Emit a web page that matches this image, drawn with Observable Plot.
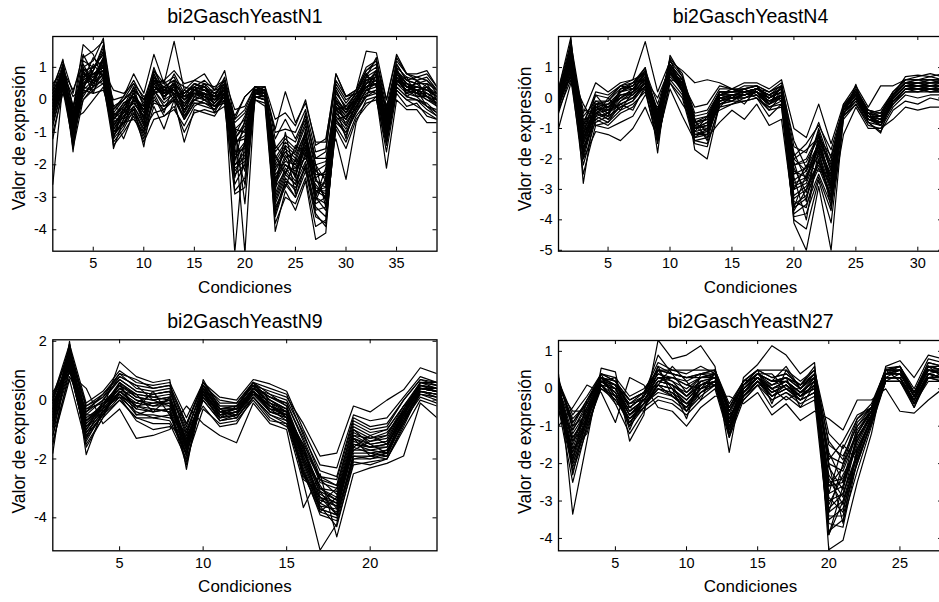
<!DOCTYPE html>
<html><head><meta charset="utf-8">
<script src="https://cdn.jsdelivr.net/npm/d3@7"></script>
<script src="https://cdn.jsdelivr.net/npm/@observablehq/plot@0.6"></script>
<style>
html,body{margin:0;padding:0;overflow:hidden;background:#fff;}
#root{position:relative;width:939px;height:602px;overflow:hidden;background:#fff;}
.panel{position:absolute;}
</style></head><body>
<div id="root"></div>
<script>
// ---- titles / labels ----
const titles = ["bi2GaschYeastN1", "bi2GaschYeastN4", "bi2GaschYeastN9", "bi2GaschYeastN27"];
const xLabel = "Condiciones";
const yLabel = "Valor de expresión";

// ---- tick values ----
const xTicks1 = [5, 10, 15, 20, 25, 30, 35];
const yTicks1 = [-4, -3, -2, -1, 0, 1];
const xTicks2 = [5, 10, 15, 20, 25, 30];
const yTicks2 = [-5, -4, -3, -2, -1, 0, 1];
const xTicks3 = [5, 10, 15, 20];
const yTicks3 = [-4, -2, 0, 2];
const xTicks4 = [5, 10, 15, 20, 25];
const yTicks4 = [-4, -3, -2, -1, 0, 1];

// ---- expression profiles (one row per gene, one value per condition) ----
// bi2GaschYeastN1 : 39 conditions
const p1 = [
[-2.6,0.5,-0.4,0.8,0.6,1.3,-0.9,-0.4,0.2,-0.6,0.4,0.1,0.5,-0.2,0.3,0.1,-0.1,0.4,-1.2,-0.8,0.2,0.3,-2.0,-1.5,-1.8,-1.0,-2.4,-2.2,0.1,-0.4,0.1,0.6,0.8,-0.6,0.9,0.5,0.4,0.3,0.1],
[0.3,1.25,-1.6,1.0,1.2,1.9,-1.5,-0.6,0.3,-0.8,0.7,0.4,0.6,0.0,0.4,0.3,0.1,0.6,-2.0,-1.6,0.4,0.3,-3.0,-2.2,-2.6,-1.6,-3.2,-3.0,0.3,-0.3,0.2,0.9,1.1,-1.2,1.1,0.6,0.5,0.6,0.2],
[-0.5,0.9,-1.1,0.4,0.9,1.6,-1.2,-0.8,-0.2,-1.45,0.3,-0.1,0.2,-0.6,0.1,0.0,-0.3,0.2,-2.6,-2.0,0.2,0.1,-3.5,-2.5,-3.0,-2.0,-3.3,-3.6,-0.5,-0.9,-0.3,0.3,0.5,-1.0,0.6,0.3,0.2,0.0,-0.2],
[0.0,0.6,-0.3,1.7,1.4,0.6,-0.3,0.1,0.8,0.2,1.4,0.5,1.8,0.3,0.6,0.8,0.3,0.9,-0.6,0.1,0.4,0.4,-1.2,-0.6,-1.2,-0.5,-1.8,-1.6,0.8,0.1,0.3,1.5,1.45,0.0,1.4,0.8,0.8,0.9,0.4],
[-0.8,0.4,-0.6,0.2,0.4,0.8,-0.5,-0.1,0.1,-0.2,0.6,0.3,0.3,0.1,0.2,0.3,0.1,0.2,-4.7,-1.2,0.3,0.2,-2.4,-2.0,-2.2,-1.4,-2.8,-2.8,-0.2,-0.6,0.0,0.4,0.6,-0.9,0.7,0.4,0.3,0.1,-0.1],
[-0.2,0.7,-0.9,0.5,0.6,1.2,-0.8,-0.3,-0.1,-0.5,0.8,0.2,0.4,-0.3,0.2,0.2,0.0,0.3,-1.0,-4.7,0.2,0.2,-2.6,-1.8,-2.4,-1.2,-2.9,-2.5,-0.1,-0.5,-0.1,0.5,0.7,-0.7,0.8,0.5,0.2,0.2,0.0],
[0.1,1.0,-0.2,0.9,1.0,1.4,-1.0,-0.5,0.0,-0.3,0.5,0.6,0.1,0.2,0.5,0.4,0.2,0.5,-0.8,-3.2,0.3,0.4,-4.05,-2.8,-3.4,-2.5,-4.3,-4.1,-0.4,-0.7,-0.2,0.3,0.2,-1.3,0.5,0.2,0.1,-0.2,-0.4],
[-0.4,0.3,-1.3,0.3,0.2,0.3,-0.6,-1.2,-0.4,-1.2,-0.2,-0.9,0.0,-1.3,-0.3,-0.4,-0.5,0.0,-1.8,-1.4,0.1,0.0,-1.8,-1.3,-1.6,-0.8,-2.0,-1.9,-1.2,-2.45,-0.7,0.0,0.1,-2.1,0.0,-0.3,-0.3,-0.7,-0.7],
[-0.3,0.8,-0.7,0.6,0.8,1.0,-0.6,-0.2,0.2,-0.3,0.4,0.2,0.3,0.0,0.2,0.1,-0.1,0.3,-1.4,-0.9,0.3,0.2,-2.1,-1.6,-1.9,-1.1,-2.5,-2.6,-0.1,-0.4,0.1,0.6,0.7,-0.6,0.8,0.4,0.4,0.3,0.1],
[0.5,0.9,0.3,1.1,0.5,0.9,0.3,0.2,0.5,0.1,0.3,0.4,0.6,0.4,0.3,0.5,0.2,0.4,-0.5,0.1,0.4,0.3,-0.9,0.25,-0.7,-0.1,-1.3,-1.3,0.8,0.1,0.2,0.7,0.9,-0.3,0.9,0.6,0.5,0.5,0.3],
[-0.6,0.5,-1.0,0.0,0.3,0.7,-1.3,-0.9,-0.3,-0.9,-0.4,-0.3,0.0,-0.5,0.0,-0.1,-0.3,0.1,-2.3,-2.0,0.1,0.0,-3.2,-2.4,-2.8,-2.0,-3.4,-3.3,-0.6,-1.0,-0.4,0.2,0.3,-1.1,0.4,0.1,0.0,-0.2,-0.3],
[-0.1,0.6,-0.5,0.7,0.9,1.5,-0.4,0.0,0.3,0.0,0.9,0.3,0.5,0.2,0.4,0.6,0.3,0.6,-0.9,-0.6,0.4,0.3,-1.6,-1.2,-1.5,-0.7,-2.2,-2.0,0.2,-0.2,0.2,0.8,1.0,-0.4,1.0,0.7,0.6,0.4,0.2],
[-1.0,0.2,-0.6,-0.4,0.0,0.4,-1.1,-0.7,-0.6,-1.0,0.1,-0.5,-0.3,-0.8,-0.2,0.0,-0.2,-0.1,-2.8,-2.4,0.0,-0.1,-3.6,-2.6,-3.0,-2.2,-3.6,-3.8,-0.8,-1.3,-0.5,-0.1,0.0,-1.4,0.3,0.0,-0.2,-0.4,-0.6],
[0.2,1.1,-0.3,1.3,1.5,1.8,-0.2,-0.4,0.4,-0.6,0.9,0.5,0.7,0.1,0.5,0.3,0.2,0.5,-1.1,-0.5,0.3,0.3,-2.0,-2.0,-2.3,-1.5,-2.8,-2.7,0.3,-0.3,0.0,0.7,1.3,-0.5,1.2,0.8,0.6,0.7,0.3],
[-0.4,0.7,-1.4,0.3,0.6,1.1,-0.9,-0.5,-0.2,-0.7,0.6,0.0,0.2,-0.4,0.1,0.2,-0.1,0.2,-1.7,-1.3,0.2,0.1,-2.7,-2.2,-2.1,-1.8,-2.4,-3.1,-0.3,-0.6,-0.1,0.4,0.5,-0.9,0.7,0.2,0.3,0.1,0.0],
[-0.2,1.0,-0.8,0.9,0.4,1.3,-0.6,-0.1,0.1,-0.4,0.2,0.4,0.3,0.0,0.3,0.4,0.0,0.4,-1.3,-1.1,0.3,0.2,-2.3,-1.9,-2.0,-1.3,-2.2,-2.4,-0.2,-0.5,0.0,0.5,0.9,-0.8,0.6,0.5,0.3,0.4,0.1],
[0.0,0.9,-0.4,0.5,0.7,0.9,-0.8,-0.3,0.0,-0.2,0.7,0.1,0.4,-0.2,0.3,0.2,0.1,0.3,-0.7,-0.4,0.3,0.2,-1.5,-1.1,-1.3,-0.6,-1.8,-1.8,0.0,-0.3,0.1,0.5,0.6,-0.5,0.8,0.4,0.5,0.2,0.0],
[-0.7,0.4,-1.0,0.7,1.0,1.2,-1.1,-0.6,-0.3,-0.9,0.3,-0.2,0.1,-0.3,0.0,0.1,-0.2,0.2,-2.0,-1.8,0.1,0.1,-2.9,-2.1,-2.5,-1.7,-3.0,-3.2,-0.4,-0.8,-0.2,0.3,0.4,-1.0,0.5,0.3,0.1,0.1,-0.2],
[0.3,0.8,0.1,0.4,0.3,0.5,-0.2,0.0,0.3,0.0,0.2,0.3,0.2,0.2,0.4,0.3,0.3,0.4,-0.6,-0.3,0.4,0.3,-1.0,-0.9,-1.0,-0.3,-1.6,-1.5,0.5,0.0,0.2,0.4,0.5,-0.2,0.6,0.3,0.4,0.3,0.2],
[-0.3,0.6,-0.9,0.6,0.8,1.0,-0.7,-0.4,-0.1,-0.5,0.5,0.1,0.3,-0.1,0.2,0.0,0.0,0.2,-1.6,-1.5,0.2,0.2,-2.5,-1.7,-2.1,-1.4,-2.7,-2.9,-0.3,-0.6,0.0,0.4,0.6,-0.8,0.6,0.4,0.2,0.0,-0.1],
[-0.1,0.7,-0.7,1.2,1.0,1.4,-0.5,-0.2,0.1,-0.3,0.6,0.2,0.5,0.1,0.3,0.2,0.1,0.3,-1.2,-0.7,0.3,0.2,-1.9,-1.4,-1.7,-1.0,-2.3,-2.3,0.0,-0.4,0.1,0.6,0.7,-0.7,0.9,0.5,0.4,0.3,0.1],
[-0.5,0.5,-1.2,0.2,0.5,0.8,-1.0,-0.7,-0.4,-1.1,0.0,-0.3,0.1,-0.6,-0.1,-0.2,-0.3,0.0,-2.2,-1.7,0.1,0.0,-3.1,-2.3,-2.6,-1.9,-3.0,-3.4,-0.6,-1.1,-0.3,0.1,0.3,-1.2,0.4,0.1,0.0,-0.1,-0.4],
[-0.2,0.9,-0.5,1.0,0.5,1.2,-0.4,-0.6,0.0,-0.7,0.3,0.4,0.0,0.3,0.1,0.5,-0.2,0.1,-1.9,-0.6,0.3,0.1,-2.8,-1.0,-2.4,-0.9,-3.0,-2.1,-0.3,-0.2,0.2,0.8,0.4,-0.7,1.0,0.2,0.6,0.1,0.2],
[0.1,0.6,-1.0,0.3,1.1,0.7,-1.2,-0.2,0.4,-0.1,0.8,0.0,0.6,-0.4,0.4,0.0,0.2,0.3,-1.1,-2.2,0.2,0.3,-1.7,-2.3,-1.4,-1.7,-2.0,-3.3,0.0,-0.8,-0.2,0.3,0.9,-0.4,0.5,0.7,0.1,0.4,-0.2],
[-0.6,1.1,-0.2,0.6,1.3,1.0,-0.9,-0.5,-0.3,-1.0,0.6,0.5,0.2,-0.1,0.3,0.3,0.0,0.5,-2.4,-1.3,0.3,0.3,-3.3,-2.7,-1.8,-2.2,-2.6,-3.0,-0.6,-0.5,-0.3,0.7,0.6,-1.1,0.7,0.4,0.2,0.5,0.0],
[-1.2,0.4,-0.8,0.9,0.2,1.1,-0.5,-0.8,0.1,-0.6,0.2,-0.4,0.5,-0.5,0.0,0.2,-0.4,0.2,-1.5,-2.6,0.1,0.1,-2.5,-1.4,-2.9,-1.0,-3.1,-2.4,-0.2,-1.2,0.0,0.1,0.8,-0.9,0.9,0.1,0.3,-0.2,-0.5],
[0.2,0.7,-1.1,0.5,0.9,1.7,-0.3,0.0,0.5,-0.2,1.0,0.2,0.8,0.2,0.5,0.4,0.1,0.7,-0.9,-1.0,0.4,0.2,-1.4,-1.8,-1.6,-0.4,-2.0,-2.5,0.4,-0.1,0.3,1.0,1.2,-0.2,1.1,0.6,0.7,0.6,0.3],
[-0.4,0.5,-0.5,0.1,0.6,0.5,-1.4,-1.0,-0.5,-1.3,-0.6,-0.5,-0.2,-1.0,-0.4,-0.3,-0.4,-0.2,-2.9,-2.7,0.0,-0.2,-3.8,-3.0,-3.2,-2.4,-3.9,-3.7,-0.9,-1.5,-0.6,-0.2,0.1,-1.6,0.2,-0.2,-0.1,-0.5,-0.6],
[0.0,1.0,-0.6,0.8,0.7,1.3,-0.6,-0.3,0.2,-0.4,0.5,0.1,0.4,0.0,0.3,0.1,0.0,0.3,-1.3,-1.2,0.3,0.2,-2.2,-1.6,-2.0,-1.3,-2.5,-2.7,-0.1,-0.4,0.0,0.5,0.7,-0.7,0.8,0.4,0.3,0.2,0.0],
[-0.3,0.8,-0.9,0.4,0.8,0.9,-0.8,-0.4,-0.1,-0.5,0.4,0.2,0.3,-0.2,0.2,0.1,-0.1,0.2,-1.8,-1.4,0.2,0.1,-2.6,-2.0,-2.3,-1.5,-2.8,-3.0,-0.3,-0.6,-0.1,0.4,0.5,-0.9,0.6,0.3,0.2,0.1,-0.1],
[0.4,1.2,0.2,1.4,0.8,0.8,0.0,0.1,0.6,0.0,0.5,0.6,0.9,0.5,0.6,0.5,0.4,0.6,-0.3,-0.2,0.4,0.4,-0.6,-0.4,-0.8,0.0,-1.4,-1.2,0.6,0.1,0.3,0.9,1.2,0.0,1.3,0.8,0.7,0.8,0.4],
[-0.5,0.6,-1.5,0.0,0.4,0.6,-1.1,-0.7,-0.2,-0.8,-0.1,-0.2,0.0,-0.6,-0.1,-0.1,-0.2,0.0,-2.1,-1.9,0.1,0.0,-3.4,-2.5,-2.7,-2.1,-3.5,-3.9,-0.7,-1.0,-0.4,0.1,0.2,-1.3,0.3,0.0,0.0,-0.3,-0.5]
];

// bi2GaschYeastN4 : 32 conditions
const p2 = [
[0.0,1.2,-1.3,-0.4,-0.3,0.0,0.2,0.6,-0.8,0.8,0.4,-1.0,-0.9,0.0,0.1,0.1,0.2,0.0,0.2,-2.8,-2.6,-1.7,-2.8,-0.4,0.1,-0.6,-0.7,0.0,0.4,0.4,0.4,0.4],
[0.3,2.0,-2.8,-0.2,-0.5,0.3,0.4,1.0,-1.8,1.4,0.7,-1.7,-2.0,-0.2,0.0,0.3,0.4,-0.2,0.4,-4.1,-5.0,-2.9,-5.0,-0.6,0.45,-0.8,-1.15,0.1,0.7,0.75,0.7,0.8],
[-1.0,0.5,-0.5,0.5,0.2,0.5,0.6,1.85,0.2,1.2,0.9,0.5,0.6,0.5,0.3,0.5,0.5,0.3,0.6,-1.0,-1.3,-0.2,-1.5,-0.2,0.4,-0.3,0.4,0.4,0.6,0.7,0.8,0.7],
[-0.5,0.8,-2.0,-1.1,-1.2,-1.4,-1.0,-0.3,-1.3,0.3,-0.6,-1.4,-1.3,-0.8,-0.4,-0.7,-0.2,-0.9,-0.7,-3.8,-3.5,-2.5,-3.5,-1.2,-0.3,-1.0,-1.0,-0.7,-0.3,-0.4,-0.3,-0.3],
[0.1,1.5,-1.0,-0.5,-0.2,0.2,0.3,0.7,-0.5,1.0,0.5,-0.9,-0.7,0.1,0.2,0.2,0.3,0.1,0.3,-2.2,-2.0,-1.2,-2.3,-0.3,0.2,-0.5,-0.6,0.1,0.5,0.5,0.5,0.5],
[-0.3,0.9,-1.6,-0.8,-0.6,-0.3,-0.1,0.4,-1.0,0.7,0.3,-1.2,-1.1,-0.1,0.0,0.0,0.1,-0.2,0.0,-3.3,-3.0,-2.2,-3.2,-0.5,0.0,-0.7,-0.9,-0.2,0.2,0.2,0.3,0.3],
[0.2,1.7,-0.8,0.1,0.0,0.4,0.5,0.9,-0.2,1.1,0.6,-0.6,-0.5,0.2,0.2,0.3,0.4,0.2,0.5,-1.6,-1.8,-0.8,-2.0,-0.3,0.3,-0.4,-0.5,0.2,0.6,0.6,0.6,0.6],
[-0.2,1.0,-1.8,-0.6,-0.8,-0.2,0.0,0.5,-1.2,0.9,0.2,-1.1,-1.2,-0.2,-0.1,0.1,0.2,-0.3,-0.1,-3.6,-3.3,-2.0,-3.4,-0.5,-0.1,-0.7,-0.8,-0.1,0.3,0.3,0.2,0.2],
[0.1,1.3,-1.2,-0.3,-0.4,0.1,0.2,0.8,-0.7,1.0,0.5,-0.9,-1.0,0.0,0.1,0.2,0.3,0.0,0.2,-2.5,-2.3,-1.5,-2.6,-0.4,0.1,-0.5,-0.7,0.0,0.4,0.5,0.4,0.5],
[-0.1,0.7,-0.2,-0.9,-1.0,-0.8,-0.6,0.1,-0.3,0.5,-0.2,-0.8,-0.6,-0.4,-0.2,-0.1,0.0,-0.6,-0.2,-2.0,-2.4,-1.0,-2.2,-0.6,-0.2,-0.8,-1.1,-0.4,-0.1,-0.2,0.0,-0.1],
[0.0,1.1,-1.5,-0.5,-0.4,0.1,0.2,0.6,-0.9,0.9,0.4,-1.0,-0.8,0.1,0.1,0.1,0.2,-0.1,0.1,-3.0,-2.8,-1.8,-3.0,-0.4,0.1,-0.6,-0.8,0.0,0.4,0.4,0.3,0.4],
[0.2,1.4,-1.1,-0.2,-0.1,0.3,0.4,0.9,-0.6,1.1,0.6,-0.8,-0.7,0.1,0.2,0.2,0.3,0.1,0.4,-2.0,-1.7,-1.3,-1.9,-0.3,0.3,-0.4,-0.6,0.1,0.5,0.6,0.5,0.6],
[-0.4,0.6,-2.2,-0.7,-0.9,-0.5,-0.3,0.3,-1.5,0.6,0.1,-1.4,-1.5,-0.3,-0.2,0.0,0.1,-0.4,-0.3,-3.9,-3.8,-2.6,-3.7,-0.6,-0.1,-0.8,-0.9,-0.2,0.2,0.2,0.2,0.3],
[0.1,1.6,-0.9,0.2,0.1,0.4,0.3,0.8,-0.4,1.2,0.7,-0.5,-0.4,0.3,0.3,0.3,0.4,0.2,0.4,-1.4,-2.3,-1.1,-2.4,-0.2,0.2,-0.5,-0.4,0.2,0.6,0.6,0.7,0.6],
[-0.2,0.9,-1.4,-0.4,-0.7,-0.1,0.1,0.5,-1.1,0.8,0.3,-1.3,-1.2,-0.1,0.0,0.1,0.2,-0.1,0.1,-3.2,-2.9,-2.1,-2.9,-0.5,0.0,-0.6,-0.8,-0.1,0.3,0.3,0.3,0.3],
[0.3,1.8,-0.6,-0.1,-0.3,0.2,0.5,1.0,-0.6,1.3,0.8,-0.7,-0.6,0.2,0.2,0.4,0.4,0.0,0.3,-2.4,-2.6,-1.4,-2.7,-0.3,0.2,-0.5,-0.6,0.1,0.5,0.5,0.6,0.5],
[-0.1,1.2,-1.7,-0.6,-0.5,-0.2,0.0,0.4,-1.0,0.8,0.2,-1.1,-1.0,0.0,0.0,0.0,0.2,-0.2,0.0,-3.5,-3.2,-2.3,-3.3,-0.5,0.0,-0.7,-0.8,-0.1,0.3,0.3,0.3,0.2],
[0.0,1.0,-1.3,-0.3,-0.2,0.0,0.3,0.7,-0.8,0.9,0.4,-1.0,-0.9,0.1,0.1,0.2,0.2,0.0,0.2,-2.7,-2.4,-1.6,-2.5,-0.4,0.1,-0.6,-0.7,0.0,0.4,0.4,0.4,0.4],
[0.2,1.3,-0.4,-0.5,-0.6,0.3,0.5,0.6,0.0,1.0,0.5,-0.3,-0.2,0.4,0.3,0.2,0.3,0.1,0.3,-1.9,-1.5,-0.9,-1.7,-0.3,0.2,-0.4,-0.5,0.2,0.6,0.6,0.6,0.6],
[-0.3,0.8,-2.5,-0.9,-0.8,-0.4,-0.2,0.2,-1.4,0.5,0.0,-1.5,-1.6,-0.2,-0.1,-0.1,0.0,-0.3,-0.2,-4.0,-4.3,-2.7,-4.1,-0.7,-0.2,-0.9,-1.0,-0.3,0.1,0.0,0.1,0.1],
[0.1,1.1,-1.9,-0.3,-0.6,0.2,0.4,0.6,-1.1,1.0,0.3,-0.9,-1.3,0.1,0.0,0.1,0.3,0.0,0.3,-3.6,-2.5,-1.9,-3.1,-0.3,0.1,-0.6,-0.9,0.0,0.4,0.5,0.4,0.4],
[-0.1,1.4,-0.7,-0.6,0.0,-0.4,0.2,0.9,-0.9,0.8,0.6,-1.1,-0.6,0.2,0.2,0.3,0.1,-0.2,0.2,-2.1,-3.4,-1.2,-2.9,-0.4,0.2,-0.7,-0.8,0.1,0.5,0.4,0.5,0.5],
[0.2,0.6,-1.2,0.1,-0.4,-0.2,-0.4,0.4,-0.5,1.3,0.2,-1.3,-1.0,-0.3,0.1,-0.2,0.3,0.1,-0.1,-3.0,-2.2,-2.4,-2.5,-0.5,0.0,-0.6,-0.6,-0.2,0.3,0.2,0.3,0.3],
[-0.4,1.9,-1.4,-0.2,-0.3,0.0,0.3,0.3,-1.4,0.6,0.5,-0.7,-1.4,0.0,-0.1,0.2,0.0,-0.4,0.1,-2.6,-4.0,-1.7,-3.6,-0.4,0.1,-0.5,-0.9,-0.1,0.3,0.4,0.3,0.3],
[0.3,1.0,-1.0,-0.1,-0.1,0.4,0.6,0.8,-0.7,1.1,0.4,-1.0,-0.8,0.1,0.3,0.2,0.3,0.2,0.4,-1.8,-2.7,-1.4,-2.1,-0.3,0.3,-0.5,-0.5,0.1,0.5,0.6,0.6,0.6],
[-0.2,1.5,-2.0,-0.5,-0.7,-0.3,-0.1,0.6,-1.3,0.9,0.3,-1.2,-1.1,-0.1,0.0,0.0,0.2,-0.1,0.0,-3.4,-3.6,-2.0,-3.3,-0.5,0.0,-0.7,-0.9,-0.1,0.3,0.3,0.2,0.2],
[0.0,1.2,-1.5,-0.4,-0.3,0.1,0.1,0.7,-0.8,0.9,0.4,-1.0,-0.9,0.0,0.1,0.1,0.2,0.0,0.2,-2.9,-2.7,-1.6,-2.8,-0.4,0.1,-0.6,-0.7,0.0,0.4,0.4,0.4,0.4],
[0.1,0.9,-1.1,-0.7,-0.5,0.0,0.0,0.5,-0.6,0.8,0.5,-0.8,-1.1,-0.1,0.1,0.2,0.2,-0.1,0.1,-2.3,-3.1,-1.5,-3.0,-0.4,0.1,-0.6,-0.8,0.0,0.4,0.3,0.4,0.4],
[-0.3,1.3,-1.7,-0.3,-0.5,-0.1,0.2,0.5,-1.0,1.0,0.4,-1.2,-1.2,0.0,0.0,0.1,0.2,-0.2,0.1,-3.7,-3.0,-2.1,-3.2,-0.5,0.0,-0.7,-0.8,-0.1,0.3,0.3,0.3,0.3],
[0.2,1.6,-0.9,-0.2,-0.2,0.2,0.4,0.8,-0.5,1.1,0.6,-0.8,-0.7,0.2,0.2,0.2,0.3,0.1,0.3,-2.2,-2.1,-1.3,-2.4,-0.3,0.2,-0.5,-0.6,0.1,0.5,0.5,0.5,0.5]
];

// bi2GaschYeastN9 : 24 conditions
const p3 = [
[-0.5,1.5,-0.6,-0.2,0.4,0.0,-0.1,0.0,-1.4,0.3,-0.4,-0.3,0.3,-0.2,-0.4,-1.8,-3.0,-3.3,-1.2,-1.5,-1.4,-0.3,0.4,0.3],
[-1.8,2.0,-1.85,-0.3,1.3,0.8,0.6,0.7,-2.35,0.7,-0.3,-0.2,0.6,0.0,-0.3,-2.5,-3.8,-4.0,-1.8,-1.8,-1.9,-0.6,0.6,0.5],
[0.3,0.9,0.4,-0.8,-0.3,-1.3,-1.2,-1.0,-0.2,-0.8,-1.2,-1.45,-0.1,-0.8,-1.0,-3.65,-2.5,-4.65,-2.5,-2.3,-2.15,-1.9,-0.1,-0.6],
[-0.8,1.2,-0.9,-0.4,0.2,-0.3,-0.4,-0.3,-1.6,0.2,-0.5,-0.4,0.2,-0.3,-0.5,-2.0,-3.4,-3.6,-1.5,-1.7,-1.6,-0.4,0.3,0.2],
[0.0,1.8,-0.3,0.1,0.9,0.4,0.3,0.4,-0.9,0.6,-0.2,-0.2,0.5,0.3,0.1,-0.8,-1.9,-1.8,-0.2,-0.4,0.0,0.35,1.1,0.9],
[-0.3,1.6,-1.2,-0.5,0.6,0.1,0.0,0.1,-1.9,0.4,-0.6,-0.4,0.4,-0.1,-0.6,-2.3,-3.7,-3.9,-1.9,-2.0,-1.8,-0.7,0.5,0.4],
[-1.0,1.0,-0.4,0.0,0.2,-0.5,-0.5,-0.6,-1.1,0.0,-0.7,-0.6,0.1,-0.5,-0.7,-1.5,-2.6,-2.9,-0.9,-1.2,-1.0,-0.2,0.2,0.1],
[-0.2,1.4,-0.8,-0.2,0.5,0.2,0.1,0.2,-1.5,0.4,-0.3,-0.3,0.4,0.1,-0.2,-1.7,-3.2,-3.5,-1.4,-1.6,-1.5,-0.5,0.4,0.3],
[-1.4,0.7,-1.5,-0.6,0.0,-0.6,-0.8,-0.8,-2.0,-0.3,-0.8,-0.7,0.0,-0.7,-0.8,-2.8,-5.1,-4.2,-2.2,-2.1,-2.0,-1.0,0.0,-0.2],
[0.1,1.9,-0.1,0.3,1.0,0.6,0.5,0.6,-0.6,0.6,0.1,0.0,0.7,0.55,0.3,-1.0,-2.2,-2.3,-0.5,-0.7,-0.6,0.1,0.8,0.6],
[-0.6,1.3,-1.0,-0.3,0.3,-0.1,-0.2,-0.1,-1.7,0.3,-0.5,-0.4,0.3,-0.2,-0.5,-2.1,-3.5,-3.8,-1.6,-1.8,-1.7,-0.6,0.3,0.2],
[-0.4,1.7,-0.5,0.0,0.7,0.3,0.2,0.3,-1.2,0.5,-0.3,-0.2,0.5,0.1,-0.1,-1.4,-2.8,-3.0,-1.0,-1.3,-1.2,-0.3,0.6,0.5],
[-0.9,1.1,-1.3,-0.5,0.1,-0.4,-0.6,-0.5,-1.8,0.1,-0.6,-0.5,0.2,-0.4,-0.6,-2.4,-3.9,-4.1,-2.0,-1.9,-2.0,-0.8,0.2,0.0],
[0.2,1.6,-0.2,0.2,0.8,0.5,0.4,0.5,-0.8,0.5,0.0,-0.1,0.6,0.4,0.2,-1.2,-2.4,-2.6,-0.6,-0.9,-0.8,0.0,0.7,0.5],
[-0.7,1.4,-0.7,-0.3,0.4,0.0,-0.2,-0.2,-1.3,0.2,-0.4,-0.3,0.3,-0.3,-0.4,-1.9,-3.1,-3.4,-1.3,-1.6,-1.5,-0.4,0.4,0.3],
[-0.1,1.2,-1.1,-0.4,0.3,-0.2,-0.3,-0.4,-1.7,0.3,-0.5,-0.4,0.3,-0.2,-0.5,-2.2,-3.6,-3.7,-1.7,-1.7,-1.8,-0.5,0.5,0.4],
[-0.5,1.7,-0.9,-0.2,0.6,0.2,0.1,0.0,-1.5,0.4,-0.4,-0.3,0.4,0.0,-0.3,-1.6,-3.0,-3.1,-1.1,-1.4,-1.3,-0.3,0.5,0.4],
[-1.2,0.8,-0.3,-0.1,0.1,-0.7,-1.0,-0.9,-1.2,-0.2,-0.9,-0.8,0.1,-0.6,-0.9,-1.6,-2.7,-3.2,-1.2,-1.3,-1.1,-0.4,0.3,0.2],
[-0.3,1.5,-0.7,-0.1,0.5,0.1,0.0,0.1,-1.6,0.4,-0.3,-0.3,0.4,-0.1,-0.3,-1.9,-3.3,-3.6,-1.5,-1.6,-1.6,-0.5,0.4,0.3],
[0.0,1.3,-1.4,-0.4,0.2,-0.2,-0.4,-0.3,-2.1,0.2,-0.6,-0.5,0.3,-0.4,-0.6,-2.6,-3.3,-3.9,-2.0,-2.0,-1.9,-0.7,0.3,0.1],
[-0.4,1.4,-1.0,-0.1,0.5,-0.3,0.3,-0.5,-1.9,0.5,-0.4,-0.5,0.4,0.2,-0.2,-2.1,-3.5,-3.0,-1.7,-1.4,-1.2,-0.2,0.5,0.3],
[-0.9,1.8,-0.5,-0.5,0.3,0.2,-0.4,0.1,-1.3,0.1,-0.6,-0.2,0.5,-0.4,-0.5,-1.5,-3.8,-3.3,-1.3,-1.9,-1.7,-0.8,0.4,0.4],
[-0.1,1.1,-1.3,0.0,0.8,0.5,0.0,-0.2,-1.6,0.4,-0.3,-0.6,0.2,0.0,-0.4,-2.7,-3.1,-3.9,-1.0,-1.5,-1.8,-0.4,0.6,0.6],
[-1.2,1.6,-0.8,-0.3,0.1,-0.1,0.2,0.3,-1.0,0.3,-0.5,-0.3,0.6,-0.2,-0.6,-1.8,-2.9,-3.7,-1.6,-1.2,-1.5,-0.6,0.2,0.1],
[-0.6,1.9,-1.6,-0.6,0.6,-0.5,-0.3,-0.4,-2.2,0.2,-0.7,-0.5,0.3,-0.3,-0.7,-2.4,-3.6,-4.3,-2.1,-2.2,-2.0,-0.9,0.3,0.2],
[0.1,1.3,-0.4,0.2,0.9,0.7,0.4,0.5,-0.8,0.6,-0.1,-0.1,0.6,0.2,0.0,-1.1,-2.6,-2.7,-0.7,-1.0,-0.9,0.0,0.7,0.6],
[-0.7,1.5,-1.1,-0.4,0.3,-0.2,-0.1,-0.1,-1.5,0.3,-0.5,-0.4,0.3,-0.2,-0.4,-2.0,-3.3,-3.5,-1.5,-1.6,-1.5,-0.5,0.4,0.3],
[-0.3,1.2,-0.7,-0.2,0.4,0.0,-0.2,0.0,-1.4,0.2,-0.4,-0.3,0.4,-0.1,-0.4,-1.7,-3.0,-3.4,-1.3,-1.5,-1.4,-0.4,0.4,0.3],
[-1.5,1.0,-1.2,-0.5,0.0,-0.6,-0.6,-0.7,-1.8,0.0,-0.7,-0.6,0.1,-0.5,-0.8,-2.5,-3.7,-3.9,-1.9,-1.9,-1.8,-0.7,0.1,-0.1],
[0.0,1.7,-0.2,0.1,0.7,0.3,0.2,0.3,-1.1,0.5,-0.2,-0.2,0.5,0.1,-0.1,-1.3,-2.7,-2.9,-0.8,-1.1,-1.0,-0.2,0.6,0.4]
];

// bi2GaschYeastN27 : 28 conditions
const p4 = [
[0.0,-1.2,-0.6,0.2,0.0,-0.6,-0.3,0.2,0.1,-0.1,0.2,0.3,-0.8,0.0,0.4,0.0,0.2,-0.1,0.3,-2.5,-2.4,-1.4,-0.6,0.4,0.4,-0.2,0.5,0.4],
[0.4,-3.35,-1.4,0.55,0.45,-1.4,-0.7,1.3,0.8,0.9,1.15,0.6,-1.7,0.3,0.65,1.15,0.9,0.4,0.7,-4.3,-4.05,-2.5,-1.2,0.6,0.75,0.3,0.9,0.8],
[-1.0,-0.5,0.1,-0.1,-0.9,0.3,0.1,-0.5,-0.6,-1.0,-0.5,-0.2,-0.2,-0.4,-0.1,-0.7,-0.4,-0.85,-0.6,-0.8,-1.1,-0.3,-0.3,0.0,-0.6,-0.65,-0.3,0.0],
[-0.3,-2.0,-0.9,0.3,-0.2,-1.0,-0.5,0.0,-0.2,-0.5,0.0,0.1,-1.2,-0.2,0.2,-0.3,-0.1,-0.3,-0.1,-3.5,-3.2,-2.0,-0.9,0.2,0.2,-0.4,0.3,0.2],
[0.2,-0.9,-0.3,0.4,0.2,-0.3,-0.1,0.5,0.4,0.3,0.4,0.5,-0.5,0.2,0.5,0.3,0.4,0.1,0.5,-1.5,-1.8,-1.0,-0.5,0.55,0.6,-0.1,0.7,0.6],
[-0.5,-2.5,-1.0,0.0,-0.3,-0.8,-0.4,0.1,0.0,-0.3,0.1,0.2,-1.0,-0.1,0.3,-0.1,0.1,-0.2,0.1,-3.0,-2.8,-1.8,-0.8,0.3,0.3,-0.3,0.4,0.3],
[0.1,-1.5,-0.5,0.3,0.1,-0.5,-0.2,0.4,0.2,0.0,0.3,0.4,-0.7,0.1,0.4,0.1,0.3,0.0,0.4,-2.0,-2.2,-1.2,-0.6,0.4,0.5,-0.2,0.5,0.5],
[-0.2,-1.8,-0.8,0.2,-0.1,-0.9,-0.4,0.0,-0.1,-0.4,0.0,0.2,-1.1,-0.2,0.2,-0.2,0.0,-0.2,0.0,-3.3,-3.0,-1.7,-0.8,0.3,0.3,-0.3,0.4,0.3],
[0.0,-1.0,-0.7,0.3,0.0,-0.7,-0.3,0.3,0.2,-0.2,0.2,0.3,-0.9,0.0,0.3,0.0,0.2,-0.1,0.2,-2.8,-2.6,-1.5,-0.7,0.4,0.4,-0.2,0.5,0.4],
[-0.4,-2.2,-1.1,0.1,-0.4,-1.2,-0.6,-0.3,-0.4,-0.7,-0.3,0.0,-1.3,-0.3,0.1,-0.5,-0.2,-0.5,-0.3,-3.8,-3.5,-2.2,-1.0,0.2,0.2,-0.5,0.3,0.2],
[0.2,-0.7,-0.2,0.4,0.3,-0.2,0.0,0.5,0.5,0.5,0.5,0.5,-0.4,0.2,0.5,0.5,0.5,0.2,0.5,-1.2,-1.6,-0.8,-0.4,0.5,0.6,0.0,0.8,0.7],
[-0.1,-1.6,-0.6,0.2,0.1,-0.6,-0.3,0.2,0.1,-0.2,0.1,0.3,-0.8,0.0,0.3,0.1,0.2,-0.1,0.2,-2.3,-2.9,-1.3,-0.7,0.4,0.4,-0.2,0.5,0.4],
[-0.3,-1.3,-0.8,0.1,-0.2,-0.8,-0.5,0.1,-0.2,-0.4,-0.1,0.1,-1.0,-0.2,0.2,-0.2,0.0,-0.3,-0.1,-3.1,-2.3,-1.6,-0.8,0.3,0.3,-0.3,0.4,0.3],
[0.3,-1.1,-0.4,0.3,0.1,-0.4,-0.1,0.7,0.5,0.4,0.6,0.4,-0.6,0.1,0.4,0.2,0.6,0.0,0.4,-1.8,-2.0,-0.9,-0.5,0.5,0.5,-0.1,0.6,0.5],
[-0.2,-2.0,-0.9,0.2,-0.1,-0.7,-0.4,0.0,-0.1,-0.6,-0.1,0.2,-1.1,-0.1,0.2,-0.1,0.1,-0.2,0.0,-3.6,-3.7,-1.9,-0.9,0.3,0.3,-0.4,0.3,0.3],
[0.0,-1.4,-0.5,0.3,0.2,-0.5,-0.2,0.3,0.3,0.1,0.3,0.4,-0.6,0.1,0.4,0.2,0.3,0.1,0.3,-2.6,-2.1,-1.1,-0.6,0.4,0.5,-0.2,0.6,0.5],
[-0.6,-1.7,-0.7,0.0,-0.2,-0.9,-0.5,-0.2,-0.3,-0.6,-0.2,0.1,-0.9,-0.2,0.1,-0.3,-0.1,-0.4,-0.2,-2.9,-3.3,-1.6,-0.8,0.2,0.2,-0.4,0.2,0.2],
[0.1,-0.8,-0.4,0.4,0.2,-0.3,-0.1,0.4,0.3,0.2,0.4,0.5,-0.5,0.2,0.5,0.3,0.4,0.1,0.6,-1.9,-1.4,-0.7,-0.5,0.5,0.6,-0.1,0.7,0.6],
[-0.1,-1.9,-0.8,0.1,0.0,-0.7,-0.3,0.1,0.0,-0.3,0.1,0.2,-1.0,-0.1,0.3,0.0,0.1,-0.2,0.1,-3.9,-3.0,-2.0,-0.9,0.3,0.3,-0.3,0.4,0.3],
[0.2,-1.0,-0.3,0.3,0.1,-0.4,-0.2,0.6,0.4,0.3,0.4,0.4,-0.6,0.1,0.4,0.2,0.3,0.0,0.4,-2.1,-2.7,-1.2,-0.6,0.4,0.5,-0.1,0.6,0.5],
[-0.2,-1.4,-0.9,0.4,-0.4,-0.5,-0.6,0.5,0.0,-0.8,0.4,0.3,-0.9,0.2,0.3,-0.2,0.1,-0.3,0.2,-3.3,-2.0,-1.2,-0.5,0.5,0.2,-0.3,0.6,0.3],
[0.1,-1.9,-0.3,0.2,0.3,-1.0,-0.1,0.1,0.6,0.2,-0.3,0.5,-1.3,0.0,0.4,0.4,0.0,0.0,0.4,-2.0,-3.6,-1.6,-0.8,0.3,0.5,-0.4,0.4,0.5],
[-0.6,-1.1,-0.5,0.1,0.0,-0.7,-0.4,0.6,-0.2,-0.5,0.2,0.1,-0.7,-0.3,0.1,0.1,0.3,-0.5,0.1,-2.8,-1.5,-1.9,-0.9,0.2,0.4,-0.2,0.3,0.4],
[0.3,-2.3,-0.7,0.3,-0.2,-0.4,-0.3,0.2,0.3,0.1,0.0,0.4,-1.1,0.1,0.5,-0.4,0.5,0.0,0.3,-3.9,-2.6,-1.3,-0.7,0.4,0.6,-0.2,0.6,0.6],
[-0.4,-1.6,-1.2,0.2,0.1,-1.1,-0.2,0.3,0.1,-0.6,0.1,0.2,-0.8,-0.2,0.2,0.0,-0.3,-0.1,0.0,-2.4,-3.1,-1.8,-0.7,0.3,0.3,-0.5,0.4,0.3],
[0.0,-0.6,-0.6,0.3,0.2,-0.5,-0.2,0.9,0.4,-0.1,0.3,0.3,-0.6,0.1,0.4,0.2,0.2,-0.2,0.3,-1.7,-2.5,-1.0,-0.6,0.5,0.5,-0.1,0.5,0.5],
[-0.1,-1.3,-0.7,0.2,0.0,-0.6,-0.3,0.2,0.1,-0.2,0.1,0.3,-0.8,0.0,0.3,0.0,0.2,-0.1,0.2,-2.6,-2.5,-1.4,-0.7,0.4,0.4,-0.2,0.5,0.4],
[-0.3,-2.1,-1.0,0.1,-0.3,-0.9,-0.4,-0.1,-0.2,-0.5,-0.1,0.1,-1.2,-0.2,0.2,-0.2,0.0,-0.3,-0.1,-3.4,-3.4,-1.9,-0.9,0.3,0.3,-0.4,0.3,0.3],
[0.2,-0.9,-0.4,0.3,0.1,-0.3,-0.1,0.5,0.4,0.3,0.3,0.4,-0.5,0.1,0.4,0.2,0.3,0.1,0.4,-1.4,-1.9,-0.8,-0.5,0.5,0.5,-0.1,0.6,0.5],
[-0.2,-1.7,-0.8,0.2,-0.1,-0.8,-0.4,0.1,0.0,-0.4,0.0,0.2,-1.0,-0.1,0.3,-0.1,0.1,-0.2,0.1,-3.2,-2.8,-1.7,-0.8,0.3,0.3,-0.3,0.4,0.3]
];

const FONT = "'Liberation Sans', Arial, Helvetica, sans-serif";

function toLong(rows) {
  return rows.flatMap((row, id) => row.map((v, i) => ({id, cond: i + 1, val: v})));
}

function panel(cfg) {
  const {rows, title, nCond, yDomain, xTicks, yTicks, left, top, width, height, m, titleDy, yLabDy} = cfg;
  const innerW = width - m.left - m.right;
  const innerH = height - m.top - m.bottom;
  const svg = Plot.plot({
    width, height,
    marginLeft: m.left, marginRight: m.right, marginTop: m.top, marginBottom: m.bottom,
    style: {fontFamily: FONT, background: "white", color: "black"},
    x: {domain: [1, nCond], axis: null},
    y: {domain: yDomain, axis: null},
    marks: [
      Plot.line(toLong(rows), {x: "cond", y: "val", z: "id", stroke: "black", strokeWidth: 1.2, clip: true}),
      Plot.frame({stroke: "black", strokeWidth: 1.3}),
      // inward ticks on all four sides
      Plot.tickX(xTicks, {x: d => d, insetTop: innerH - 4, stroke: "black"}),
      Plot.tickX(xTicks, {x: d => d, insetBottom: innerH - 4, stroke: "black"}),
      Plot.tickY(yTicks, {y: d => d, insetRight: innerW - 4, stroke: "black"}),
      Plot.tickY(yTicks, {y: d => d, insetLeft: innerW - 4, stroke: "black"}),
      Plot.axisX({ticks: xTicks, anchor: "bottom", tickSize: 0, tickPadding: 6.5, fontSize: 14.5, label: null, tickFormat: d => String(d)}),
      Plot.axisY({ticks: yTicks, anchor: "left", tickSize: 0, tickPadding: 6, fontSize: 14.5, label: null, tickFormat: d => String(d)}),
      Plot.text([title], {frameAnchor: "top", text: d => d, dy: titleDy, fontSize: 19.5, lineAnchor: "middle", textAnchor: "middle", fill: "black"}),
      Plot.text([xLabel], {frameAnchor: "bottom", text: d => d, dy: 36, fontSize: 17, lineAnchor: "middle", textAnchor: "middle", fill: "black"}),
      Plot.text([yLabel], {frameAnchor: "left", text: d => d, dx: -33, dy: yLabDy, rotate: -90, fontSize: 17.5, lineAnchor: "middle", textAnchor: "middle", fill: "black"})
    ]
  });
  const div = document.createElement("div");
  div.className = "panel";
  div.style.left = left + "px";
  div.style.top = top + "px";
  div.style.width = width + "px";
  div.style.height = height + "px";
  div.appendChild(svg);
  document.getElementById("root").appendChild(div);
}

const mLeftCol = {left: 52.3, right: 32.5};
const mRightCol = {left: 89, right: 6.9};

panel({rows: p1, title: titles[0], nCond: 39, yDomain: [-4.66, 1.95], xTicks: xTicks1, yTicks: yTicks1,
  left: 0, top: 0, width: 469, height: 300, m: {...mLeftCol, top: 36, bottom: 49.3}, titleDy: -19.3, yLabDy: -6});
panel({rows: p2, title: titles[1], nCond: 32, yDomain: [-5.03, 2.02], xTicks: xTicks2, yTicks: yTicks2,
  left: 469, top: 0, width: 480, height: 300, m: {...mRightCol, top: 36, bottom: 49.3}, titleDy: -19.3, yLabDy: -5});
panel({rows: p3, title: titles[2], nCond: 24, yDomain: [-5.12, 2.05], xTicks: xTicks3, yTicks: yTicks3,
  left: 0, top: 300, width: 469, height: 302, m: {...mLeftCol, top: 39.3, bottom: 51.7}, titleDy: -18, yLabDy: -4});
panel({rows: p4, title: titles[3], nCond: 28, yDomain: [-4.33, 1.29], xTicks: xTicks4, yTicks: yTicks4,
  left: 469, top: 300, width: 480, height: 302, m: {...mRightCol, top: 40, bottom: 51.7}, titleDy: -18.3, yLabDy: -4});
</script>
</body></html>
